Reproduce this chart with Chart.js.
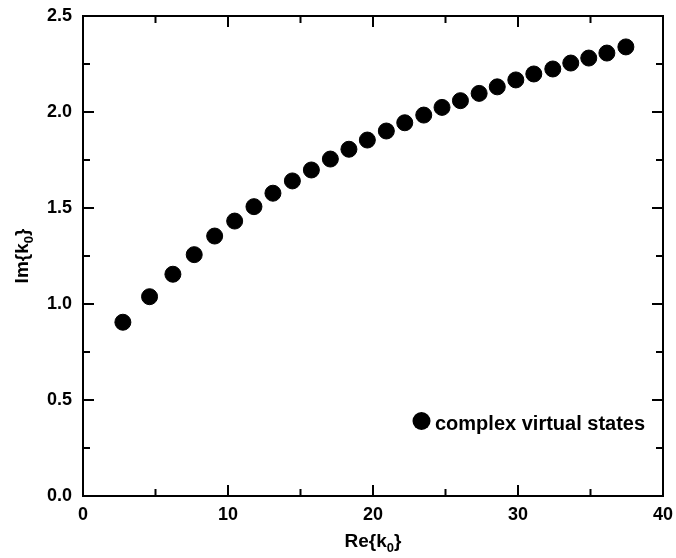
<!DOCTYPE html>
<html>
<head>
<meta charset="utf-8">
<script src="https://cdn.jsdelivr.net/npm/chart.js@4.4.1/dist/chart.umd.min.js"></script>
<style>
    html, body { margin: 0; padding: 0; background: #fff; }
    #wrap { width: 676px; height: 558px; }
</style>
</head>
<body>
<div id="wrap"><canvas id="states-chart" width="676" height="558"></canvas></div>
<script>
// Complex virtual states: Re{k0} vs Im{k0}
const reK0 = [2.75, 4.59, 6.20, 7.67, 9.08, 10.46, 11.79, 13.10, 14.44, 15.75,
              17.06, 18.34, 19.61, 20.92, 22.19, 23.50, 24.76, 26.03, 27.32, 28.57,
              29.85, 31.09, 32.40, 33.64, 34.88, 36.13, 37.44];
const imK0 = [0.905, 1.038, 1.155, 1.257, 1.354, 1.432, 1.507, 1.577, 1.641, 1.698,
              1.755, 1.806, 1.854, 1.901, 1.944, 1.984, 2.024, 2.059, 2.097, 2.131,
              2.167, 2.198, 2.224, 2.255, 2.281, 2.307, 2.339];
const seriesLabel = 'complex virtual states';
const xTitle = [{ t: 'Re{k' }, { t: '0', sub: true }, { t: '}' }];
const yTitle = [{ t: 'Im{k' }, { t: '0', sub: true }, { t: '}' }];

const FONT = '"Liberation Sans", Arial, Helvetica, sans-serif';

function drawSubText(ctx, parts, x, y) {
    const widths = parts.map(p => {
        ctx.font = 'bold ' + (p.sub ? 13 : 19) + 'px ' + FONT;
        return ctx.measureText(p.t).width;
    });
    let cx = x - widths.reduce((a, b) => a + b, 0) / 2;
    parts.forEach((p, i) => {
        ctx.font = 'bold ' + (p.sub ? 13 : 19) + 'px ' + FONT;
        ctx.fillText(p.t, cx, p.sub ? y + 5 : y);
        cx += widths[i];
    });
}

// frame, inward ticks on all four sides, axis titles, legend
const framePlugin = {
    id: 'frame',
    afterDraw(chart) {
        const ctx = chart.ctx;
        const { left, right, top, bottom } = chart.chartArea;
        const xs = chart.scales.x;
        const ys = chart.scales.y;
        ctx.save();
        ctx.strokeStyle = '#000';
        ctx.fillStyle = '#000';
        ctx.lineWidth = 2;
        ctx.strokeRect(left, top, right - left, bottom - top);

        ctx.beginPath();
        xs.ticks.forEach(t => {
            const px = xs.getPixelForValue(t.value);
            const len = t.value % 10 === 0 ? 11 : 7;
            ctx.moveTo(px, bottom); ctx.lineTo(px, bottom - len);
            ctx.moveTo(px, top); ctx.lineTo(px, top + len);
        });
        ys.ticks.forEach(t => {
            const py = ys.getPixelForValue(t.value);
            const major = Math.abs(t.value * 2 - Math.round(t.value * 2)) < 1e-6;
            const len = major ? 11 : 7;
            ctx.moveTo(left, py); ctx.lineTo(left + len, py);
            ctx.moveTo(right, py); ctx.lineTo(right - len, py);
        });
        ctx.stroke();

        ctx.textAlign = 'left';
        ctx.textBaseline = 'alphabetic';
        drawSubText(ctx, xTitle, (left + right) / 2, 546.5);
        ctx.save();
        ctx.translate(28, (top + bottom) / 2);
        ctx.rotate(-Math.PI / 2);
        drawSubText(ctx, yTitle, 0, 0);
        ctx.restore();

        // legend
        const lx = 421.5, ly = 421;
        ctx.beginPath();
        ctx.arc(lx, ly, 9, 0, Math.PI * 2);
        ctx.fill();
        ctx.font = 'bold 20px ' + FONT;
        ctx.fillText(seriesLabel, lx + 13.5, ly + 8.5);
        ctx.restore();
    }
};

const tickFont = { family: FONT, size: 18, weight: 'bold' };

// keep the plot box fixed: no extra room for end labels
function fixBox(scale) {
    scale.paddingTop = 0;
    scale.paddingBottom = 0;
    scale.paddingLeft = 0;
    scale.paddingRight = 0;
}

new Chart(document.getElementById('states-chart'), {
    type: 'scatter',
    data: {
        datasets: [{
            label: seriesLabel,
            data: reK0.map((x, i) => ({ x: x, y: imK0[i] })),
            backgroundColor: '#000',
            borderColor: '#000',
            borderWidth: 1,
            pointRadius: 8,
            pointHoverRadius: 8
        }]
    },
    options: {
        responsive: false,
        animation: false,
        events: [],
        layout: { padding: { top: 16, right: 13, left: 0, bottom: 0 } },
        plugins: {
            legend: { display: false },
            tooltip: { enabled: false }
        },
        scales: {
            x: {
                type: 'linear',
                min: 0,
                max: 40,
                grid: { display: false, drawTicks: false },
                border: { display: false },
                ticks: {
                    stepSize: 5,
                    autoSkip: false,
                    maxRotation: 0,
                    padding: 8,
                    color: '#000',
                    font: tickFont,
                    callback: v => (v % 10 === 0 ? String(v) : '')
                },
                afterFit: scale => { scale.height = 62; fixBox(scale); }
            },
            y: {
                type: 'linear',
                min: 0,
                max: 2.5,
                grid: { display: false, drawTicks: false },
                border: { display: false },
                ticks: {
                    stepSize: 0.25,
                    autoSkip: false,
                    padding: 11,
                    color: '#000',
                    font: tickFont,
                    callback: v => (Math.abs(v * 2 - Math.round(v * 2)) < 1e-6 ? v.toFixed(1) : '')
                },
                afterFit: scale => { scale.width = 83; fixBox(scale); }
            }
        }
    },
    plugins: [framePlugin]
});
</script>
</body>
</html>
